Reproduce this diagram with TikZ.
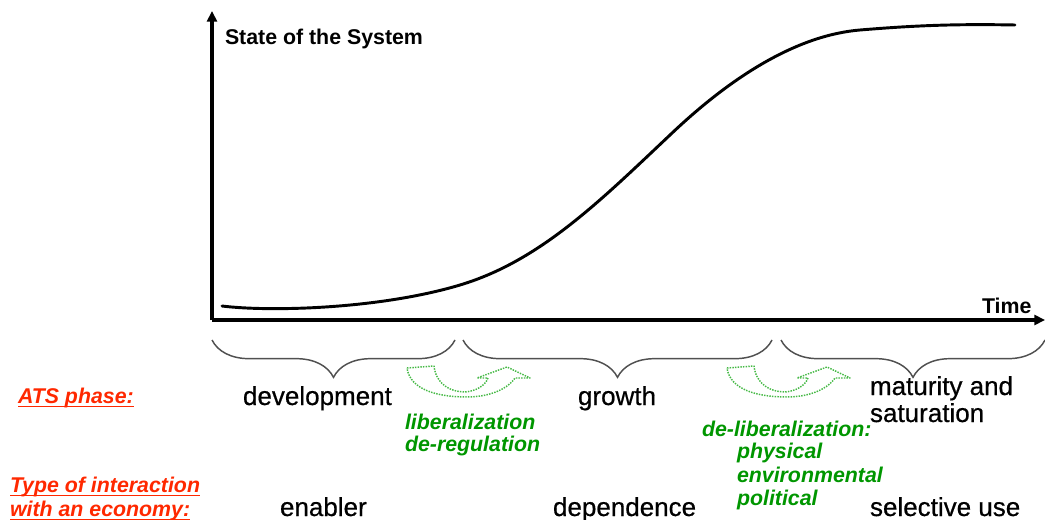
\documentclass[tikz,border=0pt]{standalone}
\usepackage{fontspec}
\setmainfont{Liberation Sans}
\newfontfamily\phasefont{Liberation Sans}[FakeBold=0.6]
\usetikzlibrary{arrows.meta,decorations.pathreplacing}

\definecolor{atsred}{RGB}{255,40,0}
\definecolor{txtgreen}{RGB}{0,150,0}
\definecolor{arrgreen}{RGB}{70,185,70}
\definecolor{bracegray}{RGB}{80,80,80}

\tikzset{
  axisline/.style={line width=2.3pt,-{Triangle[length=8pt,width=7.5pt]}},
  scurve/.style={line width=2.2pt,line cap=round},
  phasebrace/.style={draw=bracegray,line width=1.1pt,decorate,
    decoration={brace,mirror,amplitude=28pt}},
  lbl/.style={inner sep=0pt,outer sep=0pt,anchor=base west},
  axislbl/.style={lbl,font=\fontsize{16}{18}\selectfont\bfseries},
  phaselbl/.style={lbl,font=\phasefont\fontsize{19.5}{22}\selectfont},
  redlbl/.style={lbl,text=atsred,font=\fontsize{16}{18}\selectfont\bfseries\itshape},
  greenlbl/.style={lbl,text=txtgreen,font=\fontsize{16}{18}\selectfont\bfseries\itshape},
  underl/.style={draw=atsred,line width=1.4pt},
  turnarrow/.style={draw=arrgreen,line width=1.1pt,dash pattern=on 1.1pt off 0.9pt,line join=round},
}

\begin{document}
\begin{tikzpicture}[x=0.75pt,y=-0.75pt]
  \useasboundingbox (0,0) rectangle (1045,520);

  % axes
  \coordinate (origin) at (212,320);
  \coordinate (ytop) at (212,11);
  \coordinate (xend) at (1045,320);
  \draw[axisline] (origin) -- (ytop);
  \draw[axisline] (origin) -- (xend);
  \node[axislbl] (ylabel) at (225,45) {State of the System};
  \node[axislbl] (xlabel) at (982,313) {Time};

  % S-shaped development of the system
  \draw[scurve] (222,306)
    .. controls (270,312) and (380,309) .. (460,285)
    .. controls (540,261) and (600,201) .. (670,135)
    .. controls (735,73) and (800,35) .. (860,30)
    .. controls (920,25) and (960,24) .. (1015,25);

  % phase braces
  \coordinate (b1l) at (212,340); \coordinate (b1r) at (455,340);
  \coordinate (b2l) at (463,340); \coordinate (b2r) at (772,340);
  \coordinate (b3l) at (781,340); \coordinate (b3r) at (1045,340);
  \draw[phasebrace] (b1l) -- (b1r);
  \draw[phasebrace] (b2l) -- (b2r);
  \draw[phasebrace] (b3l) -- (b3r);

  % transition arrows between phases
  \foreach \dx in {0,320} {
    \begin{scope}[xshift=\dx*0.75pt]
      \draw[turnarrow] (407,368) -- (434,366)
        .. controls (436,384) and (450,392) .. (465,392)
        .. controls (476,391) and (485,386) .. (488,378)
        -- (477,378) -- (507,367) -- (530,378) -- (515,378)
        .. controls (506,391) and (486,397) .. (467,397)
        .. controls (438,397) and (410,390) .. (407,368) -- cycle;
    \end{scope}
  }

  % phase names
  \node[phaselbl] (dev) at (243,405) {development};
  \node[phaselbl] (gro) at (578,405) {growth};
  \node[phaselbl] (mat1) at (870,395) {maturity and};
  \node[phaselbl] (mat2) at (870,422) {saturation};

  % interaction types
  \node[phaselbl] (ena) at (280,516) {enabler};
  \node[phaselbl] (dep) at (553,516) {dependence};
  \node[phaselbl] (sel) at (870,516) {selective use};

  % transition drivers
  \node[greenlbl] (lib1) at (405,429) {liberalization};
  \node[greenlbl] (lib2) at (405,451) {de-regulation};
  \node[greenlbl] (del1) at (702,436) {de-liberalization:};
  \node[greenlbl] (del2) at (737,458) {physical};
  \node[greenlbl] (del3) at (737,482) {environmental};
  \node[greenlbl] (del4) at (737,505) {political};

  % row headings
  \node[redlbl] (ats) at (18,403) {ATS phase:};
  \node[redlbl] (typ1) at (10,492) {Type of interaction};
  \node[redlbl] (typ2) at (10,516) {with an economy:};
  \foreach \n in {ats,typ1,typ2}
    \draw[underl] ([yshift=-2.6pt]\n.base west) -- ([yshift=-2.6pt]\n.base east);
\end{tikzpicture}
\end{document}
